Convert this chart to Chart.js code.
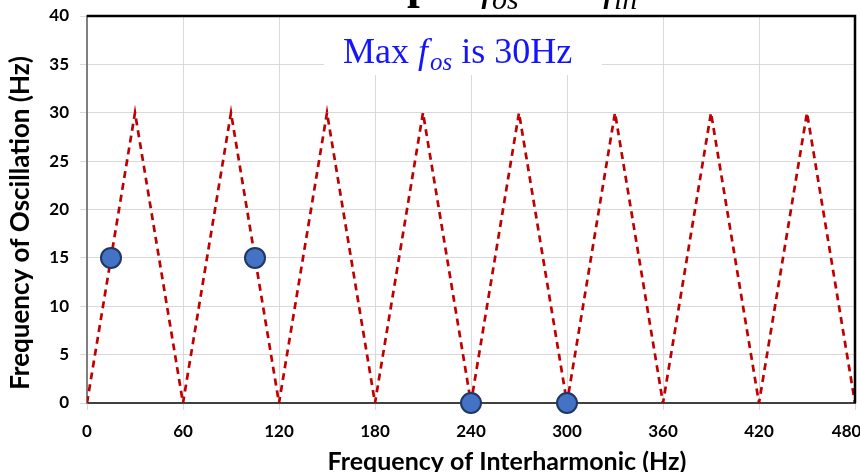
<!DOCTYPE html>
<html>
<head>
<meta charset="utf-8">
<script src="https://cdn.jsdelivr.net/npm/chart.js@4"></script>
<style>
  html, body { margin: 0; padding: 0; background: #fff; }
  #wrap { width: 860px; height: 472px; }
</style>
</head>
<body>
<div id="wrap"><canvas id="grafica" width="860" height="472"></canvas></div>
<script>
// triangle curve f_os vs f_ih
const lineaX = [0, 30, 60, 90, 120, 150, 180, 210, 240, 270, 300, 330, 360, 390, 420, 450, 480];
const lineaY = [0, 30, 0, 30, 0, 30, 0, 30, 0, 30, 0, 30, 0, 30, 0, 30, 0];

// marked points
const puntosX = [15, 105, 240, 300];
const puntosY = [15, 15, 0, 0];

const ticksX = [0, 60, 120, 180, 240, 300, 360, 420, 480];

const tituloX = 'Frequency of Interharmonic (Hz)';
const tituloY = 'Frequency of Oscillation (Hz)';

const FUENTE = "Lato, 'Liberation Sans', Arial, sans-serif";
const SERIF = "'Liberation Serif', 'Times New Roman', serif";

// white box with the "Max f_os is 30Hz" note, frame on top/right, axis titles
const notaPlugin = {
    id: 'nota',
    beforeDatasetsDraw(chart) {
        const ctx = chart.ctx;
        ctx.save();
        ctx.fillStyle = '#ffffff';
        ctx.fillRect(324, 17, 278, 58);
        ctx.fillStyle = '#1414ff';
        ctx.textBaseline = 'alphabetic';
        let x = 343;
        ctx.font = '36px ' + SERIF;
        ctx.fillText('Max ', x, 63);
        x += ctx.measureText('Max ').width;
        ctx.font = 'italic 36px ' + SERIF;
        ctx.fillText('f', x, 63);
        x += ctx.measureText('f').width + 2;
        ctx.font = 'italic 25px ' + SERIF;
        ctx.fillText('os', x, 70);
        x += ctx.measureText('os').width;
        ctx.font = '36px ' + SERIF;
        ctx.fillText(' is 30Hz', x, 63);
        ctx.restore();
    },
    afterDraw(chart) {
        const ctx = chart.ctx;
        const a = chart.chartArea;
        ctx.save();
        ctx.strokeStyle = '#000000';
        ctx.lineWidth = 2.5;
        ctx.beginPath();
        ctx.moveTo(a.left, a.top);
        ctx.lineTo(a.right, a.top);
        ctx.lineTo(a.right, a.bottom);
        ctx.stroke();

        // cut-off heading above the chart
        ctx.fillStyle = '#000000';
        ctx.textBaseline = 'alphabetic';
        ctx.font = 'bold 46px ' + SERIF;
        ctx.fillText('p', 407, -2);
        ctx.font = 'italic 46px ' + SERIF;
        ctx.fillText('f', 481, -1);
        ctx.fillText('f', 603, -1);
        ctx.font = 'italic 30px ' + SERIF;
        ctx.fillText('os', 492, 9);
        ctx.fillText('ih', 614, 9);

        // axis titles
        ctx.textAlign = 'center';
        ctx.textBaseline = 'middle';
        ctx.font = 'bold 25px ' + FUENTE;
        ctx.fillText(tituloX, 507, 462);
        ctx.translate(21, 223);
        ctx.rotate(-Math.PI / 2);
        ctx.font = 'bold 26px ' + FUENTE;
        ctx.fillText(tituloY, 0, 0);
        ctx.restore();
    }
};

function inicializarGrafica() {
    const ctx = document.getElementById('grafica').getContext('2d');

    new Chart(ctx, {
        type: 'scatter',
        data: {
            datasets: [
                {
                    label: 'Puntos',
                    data: puntosX.map((x, i) => ({ x: x, y: puntosY[i] })),
                    backgroundColor: '#4472c4',
                    borderColor: '#1f3864',
                    borderWidth: 2,
                    pointRadius: 10,
                    showLine: false,
                    clip: false,
                    order: 0
                },
                {
                    label: 'f_os',
                    data: lineaX.map((x, i) => ({ x: x, y: lineaY[i] })),
                    showLine: true,
                    borderColor: '#c00000',
                    borderWidth: 2.7,
                    borderDash: [7, 5],
                    pointRadius: 0,
                    fill: false,
                    order: 1
                }
            ]
        },
        options: {
            responsive: false,
            animation: false,
            layout: { autoPadding: false, padding: { top: 16, right: 5, left: 0, bottom: 0 } },
            scales: {
                x: {
                    type: 'linear',
                    min: 0,
                    max: 480,
                    afterBuildTicks: (scale) => { scale.ticks = ticksX.map(v => ({ value: v })); },
                    afterFit: (scale) => {
                        scale.height = 69;
                        scale.paddingLeft = 0;
                        scale.paddingRight = 0;
                    },
                    grid: { color: '#d9d9d9', lineWidth: 1, tickLength: 7 },
                    border: { color: '#404040', width: 2 },
                    ticks: {
                        color: '#000',
                        padding: 11,
                        // last label is pulled inside the canvas, like the original
                        callback: (v) => v === 480 ? '480\u2003 ' : String(v),
                        font: { family: FUENTE, size: 17, weight: 'bold' }
                    }
                },
                y: {
                    min: 0,
                    max: 40,
                    afterFit: (scale) => {
                        scale.width = 87;
                        scale.paddingTop = 0;
                        scale.paddingBottom = 0;
                    },
                    grid: { color: '#d9d9d9', lineWidth: 1, tickLength: 7 },
                    border: { color: '#7f7f7f', width: 2 },
                    ticks: {
                        stepSize: 5,
                        color: '#000',
                        padding: 11,
                        font: { family: FUENTE, size: 17, weight: 'bold' }
                    }
                }
            },
            plugins: {
                legend: { display: false },
                tooltip: { enabled: false }
            }
        },
        plugins: [notaPlugin]
    });
}

inicializarGrafica();
</script>
</body>
</html>
